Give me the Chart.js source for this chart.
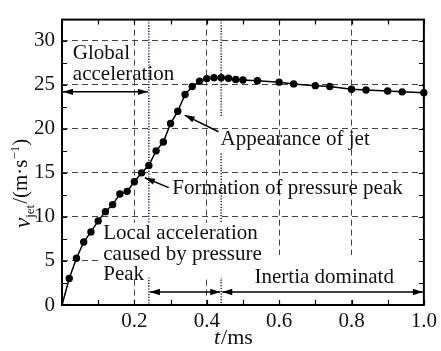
<!DOCTYPE html>
<html>
<head>
<meta charset="utf-8">
<script src="https://cdn.jsdelivr.net/npm/chart.js@4.4.0/dist/chart.umd.min.js"></script>
<style>
  html, body { margin: 0; padding: 0; background: #fff; }
  canvas { display: block; }
</style>
</head>
<body>
<canvas id="grafico" width="441" height="351"></canvas>
<script>
// t (ms) and jet velocity (m/s)
const tempos = [0, 0.02, 0.04, 0.06, 0.08, 0.10, 0.12, 0.14, 0.16, 0.18, 0.20, 0.22, 0.24,
  0.26, 0.28, 0.30, 0.32, 0.34, 0.36, 0.38, 0.40, 0.42, 0.44, 0.46, 0.48, 0.50,
  0.54, 0.60, 0.64, 0.70, 0.74, 0.80, 0.84, 0.90, 0.94, 1.00];
const velocidades = [0, 3.0, 5.3, 7.15, 8.3, 9.55, 10.6, 11.4, 12.6, 12.9, 14.0, 15.0, 15.85,
  17.5, 18.5, 20.6, 22.0, 23.9, 24.8, 25.4, 25.7, 25.8, 25.8, 25.75, 25.6, 25.55,
  25.45, 25.3, 25.1, 24.9, 24.8, 24.5, 24.4, 24.3, 24.2, 24.1];

const limitesFases = [0.24, 0.44];   // dotted phase boundaries
const fases = [
  { de: 0, ate: 0.24, v: 24.2 },
  { de: 0.24, ate: 0.44, v: 1.48 },
  { de: 0.44, ate: 1.0, v: 1.48 }
];
const notas = [
  { texto: 'Global', t: 0.03, v: 27.9 },
  { texto: 'acceleration', t: 0.03, v: 25.55 },
  { texto: 'Appearance of jet', t: 0.438, v: 18.15 },
  { texto: 'Formation of pressure peak', t: 0.305, v: 12.6 },
  { texto: 'Local acceleration', t: 0.114, v: 7.5 },
  { texto: 'caused by pressure', t: 0.114, v: 5.07 },
  { texto: 'Peak', t: 0.114, v: 2.85 },
  { texto: 'Inertia dominatd', t: 0.532, v: 2.55 }
];
const setas = [
  { t1: 0.4325, v1: 19.67, t2: 0.339, v2: 21.56 },
  { t1: 0.295, v1: 13.33, t2: 0.229, v2: 14.44 }
];

const FONTE = '"Liberation Serif", "Times New Roman", serif';
const ctx = document.getElementById('grafico').getContext('2d');

function pontaSeta(c, x1, y1, x2, y2) {
  const a = Math.atan2(y2 - y1, x2 - x1);
  const L = 10, W = 3.2;
  c.beginPath();
  c.moveTo(x2, y2);
  c.lineTo(x2 - L * Math.cos(a) + W * Math.sin(a), y2 - L * Math.sin(a) - W * Math.cos(a));
  c.lineTo(x2 - L * Math.cos(a) - W * Math.sin(a), y2 - L * Math.sin(a) + W * Math.cos(a));
  c.closePath();
  c.fill();
}

const anotacoes = {
  id: 'anotacoes',
  beforeDatasetsDraw(chart) {
    const c = chart.ctx, x = chart.scales.x, y = chart.scales.y, area = chart.chartArea;
    c.save();
    // dotted phase lines
    c.strokeStyle = '#1b2a6b';
    c.lineWidth = 1.6;
    c.setLineDash([1.2, 1.6]);
    limitesFases.forEach((t, i) => {
      const px = x.getPixelForValue(t);
      c.beginPath();
      if (i === 1) {
        c.moveTo(px, area.top); c.lineTo(px, y.getPixelForValue(21.4));
        c.moveTo(px, y.getPixelForValue(17.2)); c.lineTo(px, area.bottom);
      } else {
        c.moveTo(px, area.top); c.lineTo(px, area.bottom);
      }
      c.stroke();
    });
    c.setLineDash([]);
    // white boxes behind the lower labels
    c.fillStyle = '#fff';
    const caixa = (t1, t2, v1, v2) => {
      const a = x.getPixelForValue(t1), b = x.getPixelForValue(t2);
      const p = y.getPixelForValue(v1), q = y.getPixelForValue(v2);
      c.fillRect(a, p, b - a, q - p);
    };
    caixa(0.10, 0.452, 9.33, 3.1);
    caixa(0.452, 1.0, 5.67, 0.56);
    c.restore();
  },
  afterDraw(chart) {
    const c = chart.ctx, x = chart.scales.x, y = chart.scales.y, area = chart.chartArea;
    c.save();
    c.strokeStyle = '#000';
    c.fillStyle = '#000';
    // inward ticks
    c.lineWidth = 1.2;
    x.ticks.forEach(tk => {
      const px = Math.round(x.getPixelForValue(tk.value)) + 0.5;
      c.beginPath();
      c.moveTo(px, area.top); c.lineTo(px, area.top + 5);
      c.moveTo(px, area.bottom); c.lineTo(px, area.bottom - 5);
      c.stroke();
    });
    y.ticks.forEach(tk => {
      const py = Math.round(y.getPixelForValue(tk.value)) + 0.5;
      c.beginPath();
      c.moveTo(area.left, py); c.lineTo(area.left + 5, py);
      c.moveTo(area.right, py); c.lineTo(area.right - 5, py);
      c.stroke();
    });
    // frame
    c.lineWidth = 2;
    c.strokeRect(area.left, area.top, area.right - area.left, area.bottom - area.top);

    // text notes
    c.font = '21px ' + FONTE;
    c.textBaseline = 'alphabetic';
    c.textAlign = 'left';
    c.fillStyle = '#111';
    notas.forEach(n => c.fillText(n.texto, x.getPixelForValue(n.t), y.getPixelForValue(n.v)));

    // arrows
    c.fillStyle = '#000';
    c.lineWidth = 1.5;
    setas.forEach(s => {
      const x1 = x.getPixelForValue(s.t1), y1 = y.getPixelForValue(s.v1);
      const x2 = x.getPixelForValue(s.t2), y2 = y.getPixelForValue(s.v2);
      c.beginPath(); c.moveTo(x1, y1); c.lineTo(x2, y2); c.stroke();
      pontaSeta(c, x1, y1, x2, y2);
    });
    fases.forEach(f => {
      const a = x.getPixelForValue(f.de) + 1, b = x.getPixelForValue(f.ate) - 1;
      const py = y.getPixelForValue(f.v);
      c.beginPath(); c.moveTo(a, py); c.lineTo(b, py); c.stroke();
      pontaSeta(c, b, py, a, py);
      pontaSeta(c, a, py, b, py);
    });

    // x axis title: t/ms
    c.fillStyle = '#111';
    c.font = 'italic 22px ' + FONTE;
    c.fillText('t', 214, 344);
    let w = c.measureText('t').width;
    c.font = '22px ' + FONTE;
    c.fillText('/ms', 214 + w + 1, 344);

    // y axis title: v_jet/(m·s^-1)
    c.translate(30, 228);
    c.rotate(-Math.PI / 2);
    let px = 0;
    c.font = 'italic 23px ' + FONTE;
    c.fillText('v', px, 0); px += c.measureText('v').width;
    c.font = '13px ' + FONTE;
    c.fillText('jet', px, 4); px += c.measureText('jet').width + 1;
    c.font = '21px ' + FONTE;
    c.fillText('/(m·s', px, -3); px += c.measureText('/(m·s').width;
    c.font = '13px ' + FONTE;
    c.fillText('−1', px, -11); px += c.measureText('−1').width;
    c.font = '21px ' + FONTE;
    c.fillText(')', px, -3);
    c.restore();
  }
};

const chart = new Chart(ctx, {
  type: 'line',
  data: {
    datasets: [{
      data: tempos.map((t, i) => ({ x: t, y: velocidades[i] })),
      borderColor: '#000',
      borderWidth: 1.5,
      backgroundColor: '#000',
      pointBackgroundColor: '#000',
      pointBorderColor: '#000',
      pointRadius: tempos.map(t => (t === 0 ? 0 : 3.7)),
      pointBorderWidth: 0,
      tension: 0,
      clip: 6
    }]
  },
  options: {
    responsive: false,
    animation: false,
    layout: { padding: { top: 13, right: 16, left: 0, bottom: 0 } },
    plugins: {
      legend: { display: false },
      tooltip: { enabled: false }
    },
    scales: {
      x: {
        type: 'linear',
        min: 0,
        max: 1,
        afterFit: s => { s.height = 46; },
        border: { display: false, dash: [6, 4] },
        grid: {
          drawTicks: false,
          lineWidth: 1,
          color: c => {
            const k = Math.round(c.tick.value * 10);
            return (k % 2 === 0 && k > 0 && k < 10) ? '#444' : 'rgba(0,0,0,0)';
          }
        },
        ticks: {
          stepSize: 0.1,
          autoSkip: false,
          maxRotation: 0,
          padding: 4,
          color: '#111',
          font: { family: FONTE, size: 21 },
          callback: v => {
            const k = Math.round(v * 10);
            return (k % 2 === 0 && k > 0) ? (k / 10).toFixed(1) : '';
          }
        }
      },
      y: {
        min: 0,
        max: 32.4,
        afterFit: s => { s.width = 62; },
        border: { display: false, dash: [6, 4] },
        grid: {
          drawTicks: false,
          lineWidth: 1,
          color: c => {
            const v = c.tick.value;
            return (v % 5 === 0 && v > 0) ? '#444' : 'rgba(0,0,0,0)';
          }
        },
        ticks: {
          stepSize: 2.5,
          includeBounds: false,
          autoSkip: false,
          padding: 7,
          color: '#111',
          font: { family: FONTE, size: 21 },
          callback: v => (v % 5 === 0 ? String(v) : '')
        }
      }
    }
  },
  plugins: [anotacoes]
});
</script>
</body>
</html>
